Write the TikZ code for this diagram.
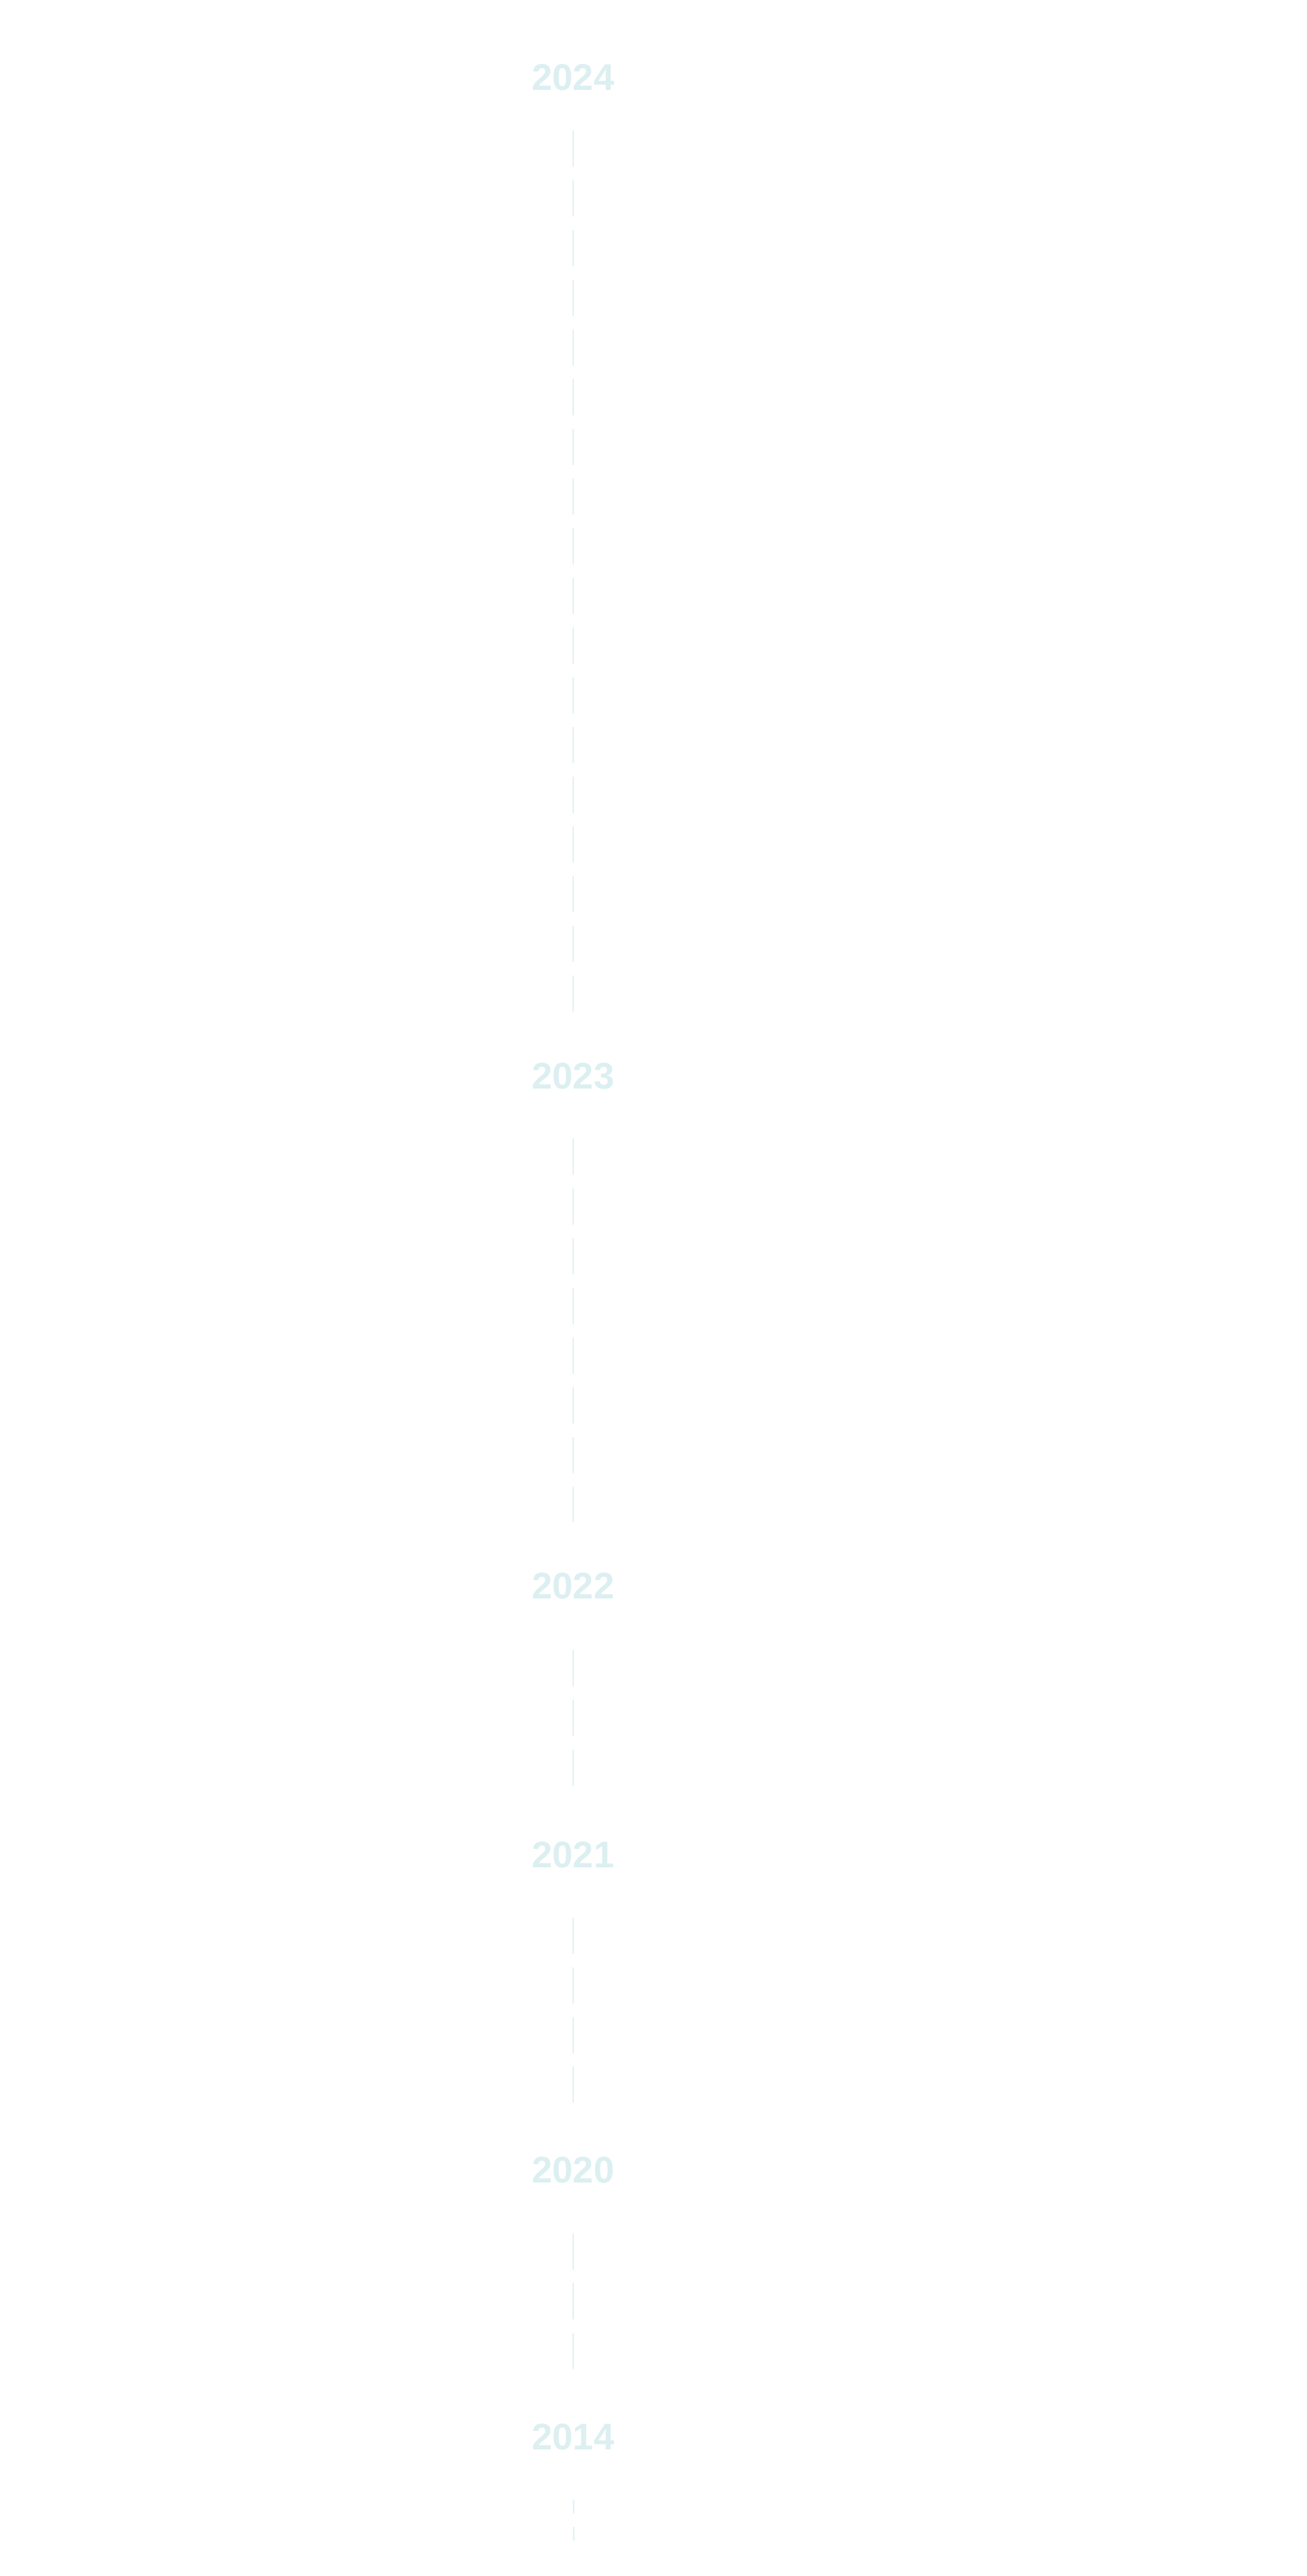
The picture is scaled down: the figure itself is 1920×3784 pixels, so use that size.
\documentclass[tikz,border=0pt]{standalone}
\usepackage{fontspec}
\setmainfont{Liberation Sans}
\definecolor{yearcol}{HTML}{DCEFF1}
\definecolor{linecol}{HTML}{E2F1F3}
\tikzset{
  x=0.5pt, y=-0.5pt,
  year/.style={inner sep=0pt, outer sep=0pt, text height=19.5pt, text depth=0pt,
    font=\fontsize{27.2}{30}\selectfont\bfseries, text=yearcol},
  tline/.style={draw=linecol, line width=1pt, dash pattern=on 26.5pt off 10pt},
  tlineshort/.style={draw=linecol, line width=1pt, dash pattern=on 10pt off 10pt}
}
\begin{document}
\begin{tikzpicture}
\useasboundingbox[fill=white] (0,0) rectangle (1920,3784);
\node[year] (y2024) at (842,113) {2024};
\node[year] (y2023) at (842,1580) {2023};
\node[year] (y2022) at (842,2329) {2022};
\node[year] (y2021) at (842,2724) {2021};
\node[year] (y2020) at (842,3187) {2020};
\node[year] (y2014) at (842,3579) {2014};
\coordinate (tend) at (843,3733);
\draw[tline, shorten <=29.75pt, shorten >=37pt] (y2024.south) -- (y2023.north);
\draw[tline, shorten <=36.75pt, shorten >=37pt] (y2023.south) -- (y2022.north);
\draw[tline, shorten <=37.75pt, shorten >=37.25pt] (y2022.south) -- (y2021.north);
\draw[tline, shorten <=36.75pt, shorten >=37.25pt] (y2021.south) -- (y2020.north);
\draw[tline, shorten <=37.25pt, shorten >=36.25pt] (y2020.south) -- (y2014.north);
\draw[tlineshort, shorten <=36.75pt] (y2014.south) -- (tend);
\end{tikzpicture}
\end{document}
